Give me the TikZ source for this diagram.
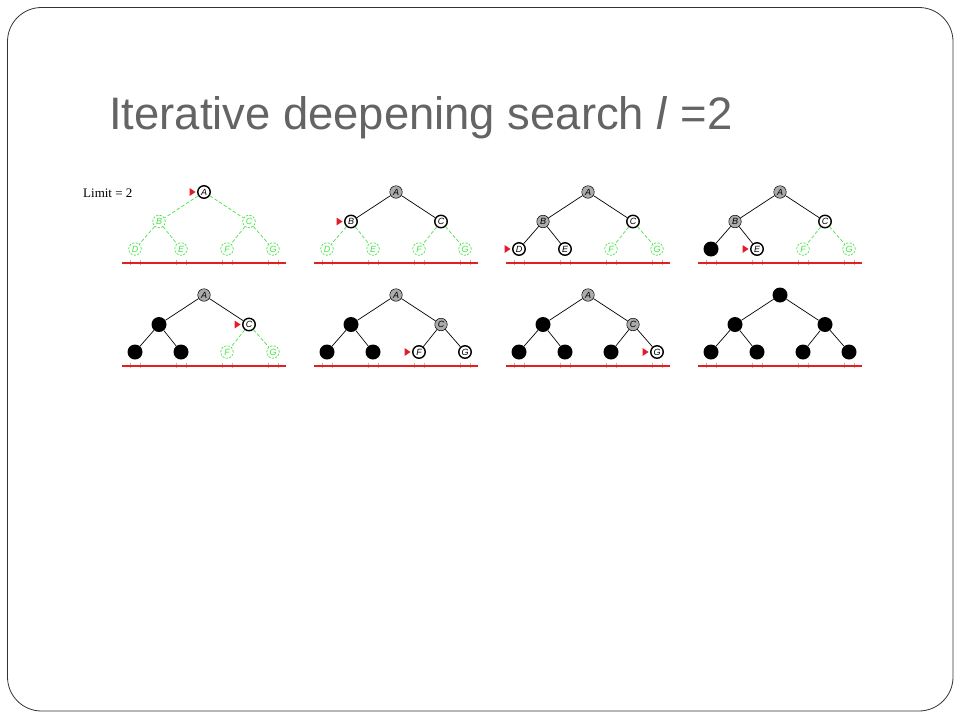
\documentclass[tikz,border=0pt]{standalone}
\usepackage{graphicx}
\usepackage{fontspec}
\setmainfont{Liberation Sans}
\newfontfamily\serifr{Liberation Serif}
\definecolor{ugreen}{RGB}{70,225,70}
\definecolor{ptrred}{RGB}{225,30,40}
\definecolor{linered}{RGB}{230,30,30}
\definecolor{titlegray}{RGB}{100,100,100}
\tikzset{
  nbase/.style={circle, inner sep=0pt, minimum size=12.5pt, font=\fontsize{9}{10}\selectfont\itshape},
  nfront/.style={nbase, draw=black, line width=1.4pt, fill=white},
  nexpd/.style={nbase, draw=black, line width=0.5pt, fill=black!33},
  ndead/.style={nbase, fill=black, text=black, minimum size=15pt},
  nunexp/.style={nbase, draw=ugreen, line width=0.7pt, dash pattern=on 2.2pt off 1.3pt, text=ugreen},
  enfront/.style={draw=black, line width=0.7pt},
  enexpd/.style={draw=black, line width=0.7pt},
  endead/.style={draw=black, line width=0.7pt},
  enunexp/.style={draw=ugreen, line width=0.7pt, dash pattern=on 3.5pt off 2pt},
  redline/.style={draw=linered, line width=2.3pt},
  tickmark/.style={draw=black!30, line width=0.4pt},
  frame/.style={draw=black!80, line width=0.8pt, rounded corners=34pt}
}
% #1 prefix, #2..#8 states of A..G
\newcommand\ttree[8]{%
  \node[#2] (#1A) at (0,0) {A};
  \node[#3] (#1B) at (-45,29.5) {B};
  \node[#4] (#1C) at (45,29.5) {C};
  \node[#5] (#1D) at (-69,57) {D};
  \node[#6] (#1E) at (-23,57) {E};
  \node[#7] (#1F) at (23,57) {F};
  \node[#8] (#1G) at (69,57) {G};
  \draw[e#3] (#1A) -- (#1B);
  \draw[e#4] (#1A) -- (#1C);
  \draw[e#5] (#1B) -- (#1D);
  \draw[e#6] (#1B) -- (#1E);
  \draw[e#7] (#1C) -- (#1F);
  \draw[e#8] (#1C) -- (#1G);
  \foreach \xx in {-69,-23,23,69}{
    \draw[tickmark] (\xx-5,68) -- (\xx-5,73);
    \draw[tickmark] (\xx+5,68) -- (\xx+5,73);
  }
  \coordinate (#1L) at (-82,71);
  \coordinate (#1R) at (82,71);
  \draw[redline] (#1L) -- (#1R);
}
\newcommand\ptr[1]{\fill[ptrred] ([xshift=-1.5pt]#1.west) -- ++(-6pt,-4pt) -- ++(0pt,8pt) -- cycle;}
\begin{document}
\begin{tikzpicture}[x=1pt,y=-1pt]
\useasboundingbox (0,0) rectangle (960,720);
\draw[frame] (7.5,7.5) rectangle (953,711);
\node[anchor=base west, inner sep=0pt, text=titlegray] (title) at (109,129)
  {\resizebox{623pt}{33pt}{Iterative deepening search \textit{l} =2}};
\node[anchor=base west, inner sep=0pt] (limit) at (83,197)
  {\serifr\fontsize{13}{15}\selectfont Limit = 2};
% top row
\begin{scope}[shift={(204,192)}]
  \ttree{a}{nfront}{nunexp}{nunexp}{nunexp}{nunexp}{nunexp}{nunexp}
  \ptr{aA}
\end{scope}
\begin{scope}[shift={(396,192)}]
  \ttree{b}{nexpd}{nfront}{nfront}{nunexp}{nunexp}{nunexp}{nunexp}
  \ptr{bB}
\end{scope}
\begin{scope}[shift={(588,192)}]
  \ttree{c}{nexpd}{nexpd}{nfront}{nfront}{nfront}{nunexp}{nunexp}
  \ptr{cD}
\end{scope}
\begin{scope}[shift={(780,192)}]
  \ttree{d}{nexpd}{nexpd}{nfront}{ndead}{nfront}{nunexp}{nunexp}
  \ptr{dE}
\end{scope}
% bottom row
\begin{scope}[shift={(204,295)}]
  \ttree{e}{nexpd}{ndead}{nfront}{ndead}{ndead}{nunexp}{nunexp}
  \ptr{eC}
\end{scope}
\begin{scope}[shift={(396,295)}]
  \ttree{f}{nexpd}{ndead}{nexpd}{ndead}{ndead}{nfront}{nfront}
  \ptr{fF}
\end{scope}
\begin{scope}[shift={(588,295)}]
  \ttree{g}{nexpd}{ndead}{nexpd}{ndead}{ndead}{ndead}{nfront}
  \ptr{gG}
\end{scope}
\begin{scope}[shift={(780,295)}]
  \ttree{h}{ndead}{ndead}{ndead}{ndead}{ndead}{ndead}{ndead}
\end{scope}
\end{tikzpicture}
\end{document}
